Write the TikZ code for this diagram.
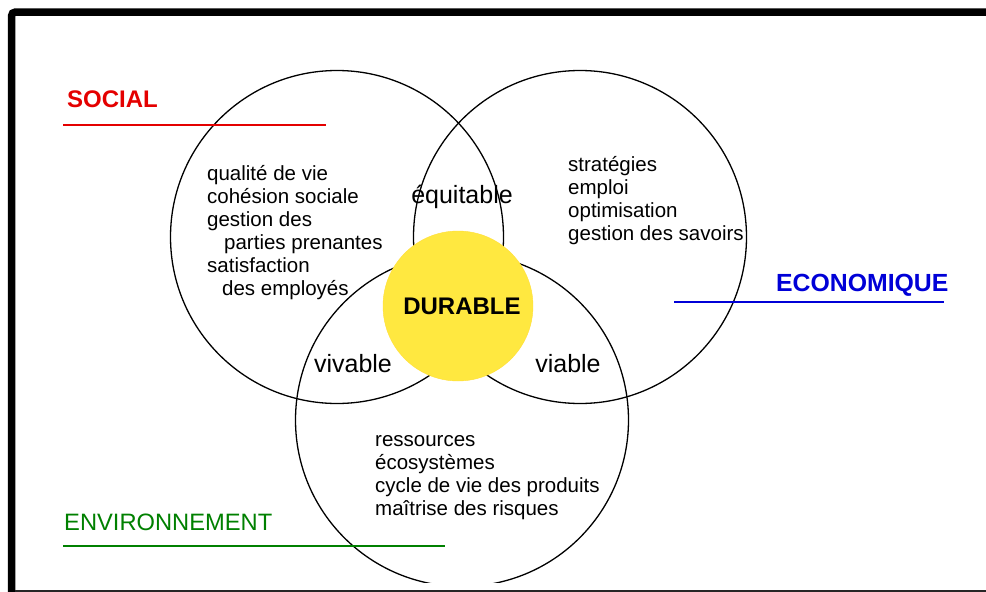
\documentclass[tikz,border=0pt]{standalone}
\usepackage{fontspec}
\setmainfont{Liberation Sans}
\usepackage{tikz}
\usetikzlibrary{positioning}

\definecolor{socialred}{RGB}{228,0,0}
\definecolor{ecoblue}{RGB}{0,0,215}
\definecolor{envgreen}{RGB}{0,128,0}
\definecolor{durableyellow}{RGB}{255,232,64}

\tikzset{
  pillar/.style={circle,draw,line width=1.3pt,minimum size=333pt,inner sep=0pt},
  itemlist/.style={anchor=west,align=left,inner sep=0pt,font=\fontsize{20.5}{23}\selectfont},
  crosslabel/.style={inner sep=0pt,font=\fontsize{25}{30}\selectfont},
  pillartitle/.style={anchor=west,inner sep=0pt,font=\fontsize{24}{28}\selectfont}
}

\begin{document}
\begin{tikzpicture}[x=1pt,y=-1pt]

    \useasboundingbox (0,0) rectangle (986,592);

    % frame
    \draw[line width=7.5pt,rounded corners=4pt] (11.5,600) -- (11.5,12) -- (995,12);
    \draw[line width=2pt,black!85] (15,591) -- (986,591);

    \begin{scope}
        \clip (0,0) rectangle (986,582);
        \node[pillar] (social) at (337,237) {};
        \node[pillar] (eco) at (580,237) {};
        \node[pillar] (env) at (462,420) {};
    \end{scope}

    \node[circle,fill=durableyellow,draw=durableyellow!90!orange,minimum size=150pt] (durable) at (458,306) {};
    \node[crosslabel,font=\fontsize{24}{28}\selectfont\bfseries] (durabletxt) at (462,306) {DURABLE};

    \node[crosslabel] (equitable) at (462,197) {équitable};
    \node[crosslabel] (vivable) at (353,364) {vivable};
    \node[crosslabel] (viable) at (568,364) {viable};

    % lists
    \node[itemlist] (sociallist) at (207,233) {qualité de vie\\cohésion sociale\\gestion des\\\hspace*{17pt}parties prenantes\\satisfaction\\\hspace*{15pt}des employés};
    \node[itemlist] (ecolist) at (568,201) {stratégies\\emploi\\optimisation\\gestion des savoirs};
    \node[itemlist] (envlist) at (375,478) {ressources\\écosystèmes\\cycle de vie des produits\\maîtrise des risques};

    % titles
    \node[pillartitle,text=socialred,font=\fontsize{24}{28}\selectfont\bfseries] (socialtitle) at (67,99) {SOCIAL};
    \node[pillartitle,text=ecoblue,font=\fontsize{24.8}{28}\selectfont\bfseries] (ecotitle) at (776,285) {ECONOMIQUE};
    \node[pillartitle,text=envgreen,font=\fontsize{23.7}{27}\selectfont] (envtitle) at (64,522) {ENVIRONNEMENT};

    \draw[socialred,line width=2pt] (63,125) -- (326,125);
    \draw[ecoblue,line width=2pt] (674,302) -- (944,302);
    \draw[envgreen,line width=2pt] (63,546) -- (445,546);

\end{tikzpicture}
\end{document}
